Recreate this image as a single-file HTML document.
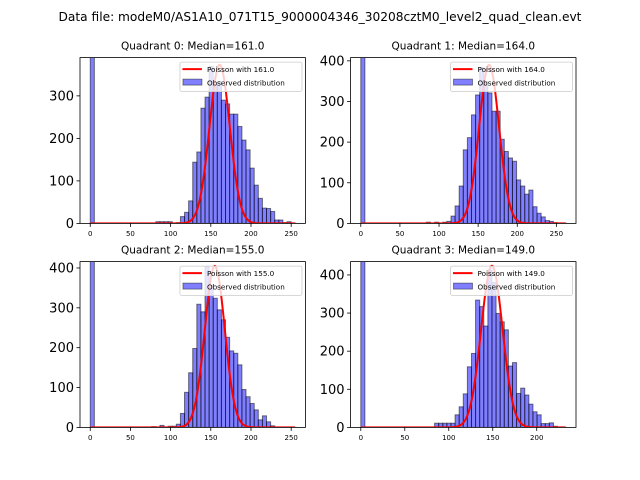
<!DOCTYPE html>
<html><head><meta charset="utf-8"><style>
body{margin:0;background:#fff}
svg{display:block;font-family:"DejaVu Sans","Liberation Sans",sans-serif}
</style></head><body>
<svg id="fig" width="640" height="480" viewBox="0 0 640 480">
<text x="320" y="21" text-anchor="middle" font-size="12.2">Data file: modeM0/AS1A10_071T15_9000004346_30208cztM0_level2_quad_clean.evt</text>
</svg>
<script>
// ---- data ----
const quadNames = ["Quadrant 0","Quadrant 1","Quadrant 2","Quadrant 3"];
const medians = [161.0, 164.0, 155.0, 149.0];
const dataMax = [255, 262, 255, 233];
const yMax = [390, 408, 416, 435];
const poissonPeak = [373, 390, 405, 424];
const yTicks0 = [0,100,200,300];
const yTicks1 = [0,100,200,300,400];
const yTicks2 = [0,100,200,300,400];
const yTicks3 = [0,100,200,300,400];
const xTicks0 = [0,50,100,150,200,250];
const xTicks1 = [0,50,100,150,200,250];
const xTicks2 = [0,50,100,150,200,250];
const xTicks3 = [0,50,100,150,200];
const counts0 = [1000,0,0,0,0,0,0,0,0,0,0,0,0,0,0,0,4,4,4,4,0,2,
 16,26,53,144,168,271,297,369,326,334,290,281,257,257,228,196,173,130,90,59,36,35,28,8,8,2,4,1];
const counts1 = [1000,0,0,0,0,0,0,0,0,0,0,0,0,0,0,0,3,0,3,0,3,5,
 18,43,92,181,211,267,316,383,349,321,276,276,207,177,161,153,107,92,72,82,41,25,16,7,5,2,1,1];
const counts2 = [1000,0,0,0,0,0,0,0,0,0,0,0,0,0,0,2,0,5,0,3,3,8,
 35,88,137,198,309,290,403,357,324,295,270,226,192,186,157,95,77,60,44,19,29,14,4,0,0,0,0,0];
const counts3 = [1000,0,0,0,0,0,0,0,0,0,0,0,0,0,0,0,0,0,11,11,11,11,11,
 33,54,88,159,194,334,317,266,413,380,299,277,256,161,170,89,103,85,61,41,33,10,10,12,3,0,0];

const allCounts=[counts0,counts1,counts2,counts3];
const allYT=[yTicks0,yTicks1,yTicks2,yTicks3];
const allXT=[xTicks0,xTicks1,xTicks2,xTicks3];
const NS="http://www.w3.org/2000/svg";
const svg=document.getElementById('fig');
function mk(tag,attrs,parent){const e=document.createElementNS(NS,tag);for(const k in attrs)e.setAttribute(k,attrs[k]);(parent||svg).appendChild(e);return e;}
const W=225.45,H=165.8;
const origins=[[80,57.6],[350.55,57.6],[80,261.6],[350.55,261.6]];
for(let q=0;q<4;q++){
  const [L,T]=origins[q];
  const mx=dataMax[q];
  const x0=-0.05*mx,x1=1.05*mx;
  const sx=v=>L+(v-x0)/(x1-x0)*W;
  const sy=v=>T+H-v/yMax[q]*H;
  const g=mk('g',{});
  
  
  const cp=mk('clipPath',{id:'cp'+q},g);
  mk('rect',{x:L,y:T,width:W,height:H},cp);
  const counts=allCounts[q];
  const bw=mx/counts.length;
  const bg=mk('g',{'clip-path':'url(#cp'+q+')'},g);
  counts.forEach((c,i)=>{
    if(c<=0)return;
    const r=mk('rect',{x:sx(i*bw),y:sy(c),width:sx((i+1)*bw)-sx(i*bw),height:sy(0)-sy(c),fill:'rgba(0,0,255,0.5)',stroke:'rgba(0,0,0,0.5)','stroke-width':1},bg);
    
    
  });
  const lam=medians[q];
  let d='';
  for(let x=0;x<=mx;x+=0.5){
    const v=poissonPeak[q]*Math.exp(-(x-lam)*(x-lam)/(2*lam));
    d+=(x===0?'M':'L')+sx(x).toFixed(2)+','+sy(v).toFixed(2);
  }
  const pl=mk('path',{d:d,fill:'none',stroke:'#ff0000','stroke-width':2,'clip-path':'url(#cp'+q+')'},g);
  
  
  const fr=mk('rect',{x:L,y:T,width:W,height:H,fill:'none',stroke:'#000','stroke-width':0.8},g);
  
  
  allYT[q].forEach(t=>{
    const y=sy(t);
    mk('line',{x1:L-3.5,x2:L,y1:y,y2:y,stroke:'#000','stroke-width':0.8},g);
    const tx=mk('text',{x:L-6,y:y+4.5,'text-anchor':'end','font-size':13},g);
    tx.textContent=t;
    
    
  });
  allXT[q].forEach(t=>{
    const x=sx(t);
    mk('line',{x1:x,x2:x,y1:T+H,y2:T+H+3.5,stroke:'#000','stroke-width':0.8},g);
    const tx=mk('text',{x:x,y:T+H+12.5,'text-anchor':'middle','font-size':7},g);
    tx.textContent=t;
    
    
  });
  const ti=mk('text',{x:L+W/2,y:T-8,'text-anchor':'middle','font-size':10.5},g);
  ti.textContent=quadNames[q]+': Median='+medians[q].toFixed(1);
  
  
  const lg=mk('g',{},g);
  
  
  const lx=L+W-125.5,ly=T+4.5;
  mk('rect',{x:lx,y:ly,width:122,height:29.5,rx:2,fill:'rgba(255,255,255,0.8)',stroke:'#ccc','stroke-width':0.8},lg);
  mk('line',{x1:lx+2.5,x2:lx+22,y1:ly+7,y2:ly+7,stroke:'#ff0000','stroke-width':2},lg);
  const t1=mk('text',{x:lx+27,y:ly+10,'font-size':7.2},lg);
  t1.textContent='Poisson with '+medians[q].toFixed(1);
  
  
  mk('rect',{x:lx+3,y:ly+17,width:19,height:6,fill:'rgba(0,0,255,0.5)',stroke:'rgba(0,0,0,0.5)','stroke-width':0.8},lg);
  const t2=mk('text',{x:lx+27,y:ly+23.5,'font-size':7.2},lg);
  t2.textContent='Observed distribution';
  
  
}
</script>
</body></html>
